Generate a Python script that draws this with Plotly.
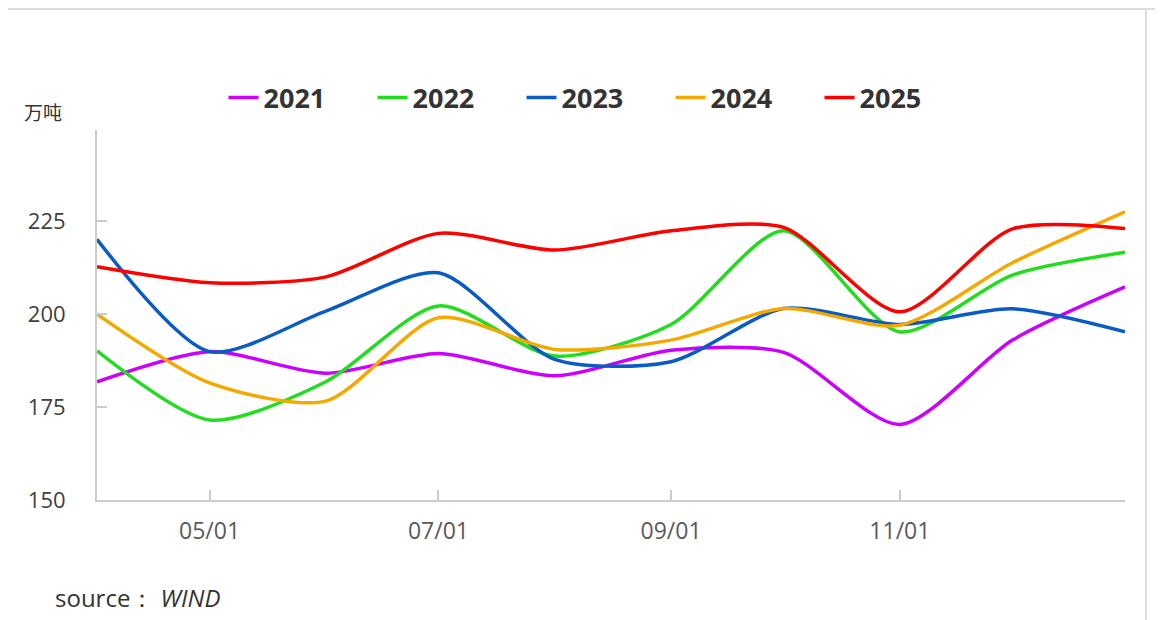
import plotly.graph_objects as go

dates = ["2025-04-01", "2025-05-01", "2025-06-01", "2025-07-01", "2025-08-01",
         "2025-09-01", "2025-10-01", "2025-11-01", "2025-12-01", "2025-12-31"]

s2021 = [181.8, 189.9, 184.1, 189.4, 183.4, 190.3, 189.7, 170.3, 193.0, 207.3]
s2022 = [190.1, 171.5, 181.8, 202.2, 188.7, 197.2, 222.4, 195.2, 210.5, 216.6]
s2023 = [220.1, 189.9, 200.8, 211.1, 187.8, 187.2, 201.5, 197.2, 201.4, 195.2]
s2024 = [200.0, 181.5, 176.6, 199.0, 190.5, 193.0, 201.5, 197.0, 213.8, 227.5]
s2025 = [212.7, 208.4, 210.0, 221.7, 217.2, 222.4, 223.3, 200.6, 222.9, 223.0]

series_names = ["2021", "2022", "2023", "2024", "2025"]
series_values = [s2021, s2022, s2023, s2024, s2025]
colors = ["#cc00ff", "#22dd1e", "#0a5cc4", "#f5a800", "#ff0000"]

x_tickvals = ["2025-05-01", "2025-07-01", "2025-09-01", "2025-11-01"]
x_ticktext = ["05/01", "07/01", "09/01", "11/01"]
y_tickvals = [150, 175, 200, 225]

# page body has an 8px margin; work in page pixels and convert
OFF = 8
PW, PH = 1163, 620
W, H = PW - OFF, PH - OFF
L, R, T, B = 97, 1125, 130, 500   # plot area in page pixels

fig = go.Figure()
for name, vals, c in zip(series_names, series_values, colors):
    fig.add_trace(go.Scatter(
        x=dates, y=vals, name=name, mode="lines",
        line=dict(color=c, width=3.5, shape="spline", smoothing=0.75),
    ))

def px_x(p):
    return (p - L) / (R - L)

def px_y(p):
    return (B - p) / (B - T)

shapes = [
    dict(type="line", xref="paper", yref="paper", x0=px_x(OFF), x1=px_x(PW),
         y0=px_y(OFF + 1), y1=px_y(OFF + 1), line=dict(color="#dcdcdc", width=2), layer="below"),
    dict(type="line", xref="paper", yref="paper", x0=px_x(1146), x1=px_x(1146),
         y0=px_y(OFF + 1), y1=px_y(PH), line=dict(color="#dcdcdc", width=2), layer="below"),
]

annotations = [
    dict(text="万吨", xref="paper", yref="paper", x=px_x(22), y=px_y(111),
         xanchor="left", yanchor="middle", showarrow=False,
         font=dict(family="Noto Sans CJK SC", size=19, color="#333333")),
    dict(text="source：&nbsp;<i>WIND</i>", xref="paper", yref="paper", x=px_x(53), y=px_y(597),
         xanchor="left", yanchor="middle", showarrow=False,
         font=dict(family="Open Sans", size=24, color="#333333")),
]

fig.update_layout(
    width=W, height=H,
    margin=dict(l=L - OFF, r=PW - R, t=T - OFF, b=PH - B),
    paper_bgcolor="white", plot_bgcolor="white",
    showlegend=True,
    legend=dict(orientation="h", x=px_x(596), y=px_y(98), xanchor="center", yanchor="middle",
                font=dict(family="Open Sans", size=27, color="#333333", weight="bold"),
                entrywidth=104, entrywidthmode="pixels", itemwidth=30,
                bgcolor="rgba(0,0,0,0)"),
    shapes=shapes,
    annotations=annotations,
    xaxis=dict(type="date", range=[dates[0], dates[-1]],
               tickvals=x_tickvals, ticktext=x_ticktext,
               showline=True, linecolor="#cccccc", linewidth=2,
               ticks="inside", ticklen=10, tickcolor="#cccccc", tickwidth=1.5,
               showgrid=False, zeroline=False, ticklabelstandoff=9,
               tickfont=dict(family="Open Sans", size=23, color="#5a5a5a")),
    yaxis=dict(range=[150, 249.5], tickvals=y_tickvals,
               showline=True, linecolor="#cccccc", linewidth=2,
               ticks="inside", ticklen=10, tickcolor="#cccccc", tickwidth=1.5,
               showgrid=False, zeroline=False, ticklabelstandoff=25,
               tickfont=dict(family="Open Sans", size=22, color="#404040")),
)

fig.write_html("out.html")
